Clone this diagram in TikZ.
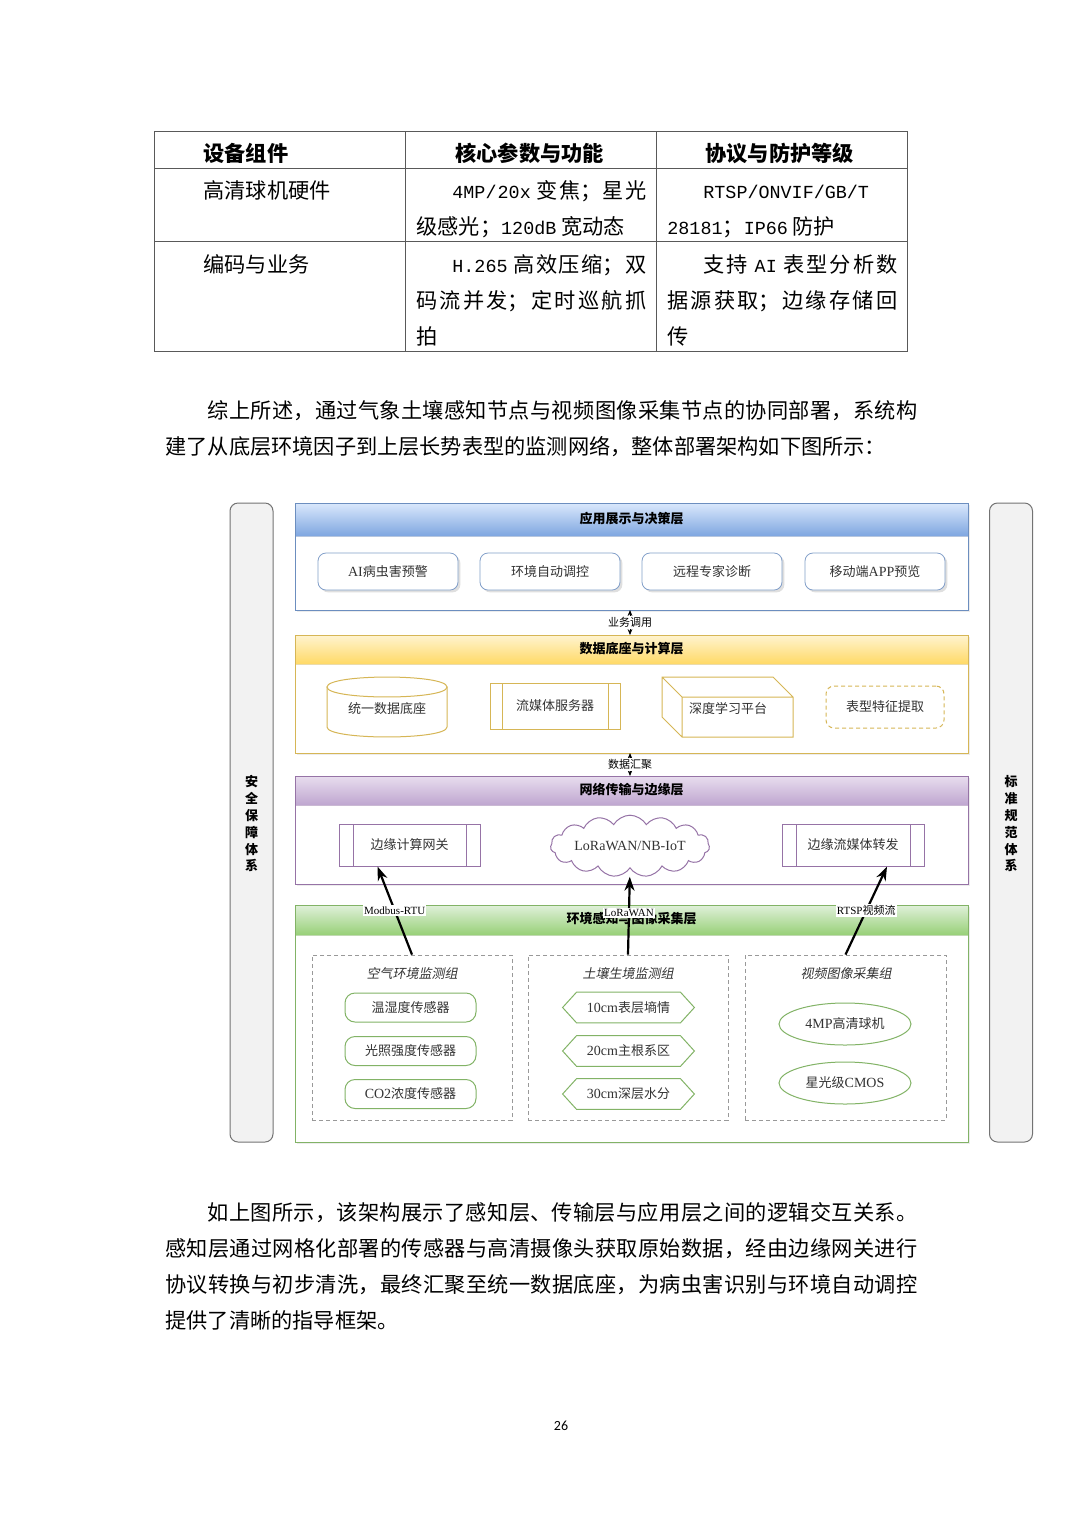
\documentclass[tikz,border=0pt]{standalone}
\usepackage{fontspec}
\setmainfont{Noto Sans CJK SC}
\newfontfamily\cjkit[FakeSlant=0.2]{Noto Sans CJK SC}
\newfontfamily\latf{Liberation Serif}
\newfontfamily\monof{Liberation Mono}
\newfontfamily\numf{Carlito}
\usetikzlibrary{shapes.geometric,shapes.symbols,shadows,arrows.meta}
\XeTeXlinebreaklocale "zh"
\XeTeXlinebreakskip=0pt plus 1pt
\newcommand\mn[1]{{\monof\fontsize{9.2pt}{18pt}\selectfont #1}}
\newcommand\latn[1]{{\latf\fontsize{7pt}{8pt}\selectfont #1}}
\newcommand\dfont{\fontsize{6.5pt}{8pt}\selectfont}
\definecolor{blueD}{HTML}{7EA6E0}\definecolor{blueL}{HTML}{DAE8FC}\definecolor{blueB}{HTML}{6C8EBF}
\definecolor{yelD}{HTML}{FFD966}\definecolor{yelL}{HTML}{FFF4D0}\definecolor{yelB}{HTML}{D6B656}
\definecolor{purD}{HTML}{BFA6D0}\definecolor{purL}{HTML}{E8DDEE}\definecolor{purB}{HTML}{9673A6}
\definecolor{grnD}{HTML}{97D077}\definecolor{grnL}{HTML}{E0F0DA}\definecolor{grnB}{HTML}{82B366}
\definecolor{txt}{HTML}{333333}
\definecolor{barfill}{HTML}{F2F2F2}
\begin{document}
\begin{tikzpicture}[x=0.5pt,y=-0.5pt,
  bodytext/.style={anchor=base west, inner sep=0pt, text width=376pt, align=justify, font=\fontsize{10.6pt}{18pt}\selectfont},
  celltext/.style={anchor=base west, inner sep=0pt, text width=115pt, align=justify, font=\fontsize{10.6pt}{18pt}\selectfont},
  cellone/.style={anchor=base west, inner sep=0pt, font=\fontsize{10.6pt}{18pt}\selectfont},
  tline/.style={draw=black!65, line width=0.45pt},
  dtext/.style={font=\dfont, text=txt, inner sep=1pt},
  ltitle/.style={font=\bfseries\dfont, text=black, inner sep=1pt},
  apbox/.style={draw=blueB!85, fill=white, rounded corners=4pt, minimum width=70pt, minimum height=18.5pt,
     drop shadow={opacity=0.25, shadow xshift=1.2pt, shadow yshift=-1.2pt}, font=\dfont, text=txt},
  procn/.style={draw, minimum height=23pt, font=\dfont, text=txt, line width=0.5pt},
  sbox/.style={draw=grnB, rounded corners=5pt, minimum width=65.5pt, minimum height=14.5pt, font=\dfont, text=txt, line width=0.5pt},
  hexn/.style={minimum width=65.5pt, minimum height=15pt, font=\dfont, text=txt},
  hexline/.style={draw=grnB, line width=0.5pt},
  elln/.style={ellipse, draw=grnB, minimum width=66pt, minimum height=21pt, font=\dfont, text=txt, line width=0.5pt},
  grpbox/.style={draw=black!40, dash pattern=on 2pt off 1.5pt, line width=0.4pt, minimum height=82.5pt},
  gtitle/.style={font=\cjkit\dfont, text=txt},
  flow/.style={-{Stealth[length=7pt,width=5pt]}, line width=1.1pt, black},
  linkarr/.style={{Stealth[length=3pt,width=2.4pt]}-{Stealth[length=3pt,width=2.4pt]}, line width=0.4pt, black},
  lbl/.style={fill=white, inner sep=0.6pt, font=\fontsize{5.5pt}{6pt}\selectfont, text=black},
  sidebar/.style={draw=black!55, fill=barfill, rounded corners=4pt, line width=0.5pt, minimum width=21.5pt, minimum height=319.5pt},
  sidetext/.style={font=\bfseries\fontsize{6.5pt}{8.4pt}\selectfont, align=center, text=black}
]
\useasboundingbox (0,0) rectangle (1080,1528);
\fill[white] (0,0) rectangle (1080,1528);

% ---------------- table ----------------
\draw[tline] (154,131) rectangle (907,351);
\draw[tline] (405,131) -- (405,351) (656,131) -- (656,351)
             (154,168) -- (907,168) (154,241) -- (907,241);
\node[cellone, font=\bfseries\fontsize{10.6pt}{18pt}\selectfont] (h1) at (203,161) {设备组件};
\node[cellone, font=\bfseries\fontsize{10.6pt}{18pt}\selectfont] (h2) at (455,161) {核心参数与功能};
\node[cellone, font=\bfseries\fontsize{10.6pt}{18pt}\selectfont] (h3) at (705,161) {协议与防护等级};
\node[cellone] (r1c1) at (203,198) {高清球机硬件};
\node[cellone] (r2c1) at (203,272) {编码与业务};
\node[celltext] (r1c2) at (416,198) {\hspace*{18pt}\mn{4MP/20x} 变焦；星光\linebreak 级感光；\mn{120dB} 宽动态};
\node[celltext] (r2c2) at (416,272) {\hspace*{18pt}\mn{H.265} 高效压缩；双\linebreak 码流并发；定时巡航抓\linebreak 拍};
\node[celltext] (r1c3) at (667,198) {\hspace*{18pt}\mn{RTSP/ONVIF/GB/T}\\\mn{28181}；\mn{IP66} 防护};
\node[celltext] (r2c3) at (667,272) {\hspace*{18pt}支持 \mn{AI} 表型分析数\linebreak 据源获取；边缘存储回\linebreak 传};

% ---------------- paragraph 1 ----------------
\node[bodytext] (p1) at (165,418) {\hspace*{2em}综上所述，通过气象土壤感知节点与视频图像采集节点的协同部署，系统构\linebreak 建了从底层环境因子到上层长势表型的监测网络，整体部署架构如下图所示：};

% ---------------- side bars ----------------
\node[sidebar] (sbl) at (251.5,822.5) {};
\node[sidetext] (sec) at (251.5,824) {安\\全\\保\\障\\体\\系};
\node[sidebar] (sbr) at (1011,822.5) {};
\node[sidetext] (std) at (1011,824) {标\\准\\规\\范\\体\\系};

% ---------------- layer 1 ----------------
\fill[white, drop shadow={opacity=0.15,shadow xshift=1pt,shadow yshift=-1pt}] (295,503) rectangle (968,610);
\shade[top color=blueL, bottom color=blueD] (295,503) rectangle (968,536);
\draw[blueB!50, line width=0.4pt] (295,536) -- (968,536);
\draw[blueB, line width=0.5pt] (295,503) rectangle (968,610);
\node[ltitle] (t1) at (631.5,519) {应用展示与决策层};
\node[apbox] (ai) at (388,571.5) {\latn{AI}病虫害预警};
\node[apbox] (env) at (550,571.5) {环境自动调控};
\node[apbox] (rem) at (712,571.5) {远程专家诊断};
\node[apbox] (app) at (875,571.5) {移动端\latn{APP}预览};
\coordinate (L1b) at (630,610);

% ---------------- layer 2 ----------------
\fill[white, drop shadow={opacity=0.15,shadow xshift=1pt,shadow yshift=-1pt}] (295,635) rectangle (968,753);
\shade[top color=yelL, bottom color=yelD] (295,635) rectangle (968,664);
\draw[yelB!50, line width=0.4pt] (295,664) -- (968,664);
\draw[yelB, line width=0.5pt] (295,635) rectangle (968,753);
\node[ltitle] (t2) at (631.5,649) {数据底座与计算层};
\coordinate (L2t) at (630,635);
\coordinate (L2b) at (630,753);
% cylinder
\draw[yelB, line width=0.5pt, fill=white] (327,687) -- (327,727) .. controls (327,740.3) and (447,740.3) .. (447,727) -- (447,687) -- cycle;
\draw[yelB, line width=0.5pt, fill=white] (327,687) .. controls (327,673.7) and (447,673.7) .. (447,687)
   .. controls (447,700.3) and (327,700.3) .. (327,687) -- cycle;
\node[dtext] (db) at (387,709) {统一数据底座};
% process
\node[procn, draw=yelB, minimum width=65pt] (sm) at (555,706) {流媒体服务器};
\draw[yelB, line width=0.5pt] (502,683) -- (502,729) (608,683) -- (608,729);
% cube
\draw[yelB, line width=0.5pt] (662,677) -- (773,677) -- (793,697) -- (793,737) -- (682,737) -- (662,717) -- cycle
   (662,677) -- (682,697) -- (793,697) (682,697) -- (682,737);
\node[dtext] (dl) at (728,708) {深度学习平台};
% dashed
\node[draw=yelB, dash pattern=on 2pt off 1.5pt, rounded corners=4pt, minimum width=59pt, minimum height=21pt, font=\dfont, text=txt, line width=0.5pt] (fe) at (885,707) {表型特征提取};

% ---------------- layer 3 ----------------
\fill[white, drop shadow={opacity=0.15,shadow xshift=1pt,shadow yshift=-1pt}] (295,776) rectangle (968,884);
\shade[top color=purL, bottom color=purD] (295,776) rectangle (968,805);
\draw[purB!50, line width=0.4pt] (295,805) -- (968,805);
\draw[purB, line width=0.5pt] (295,776) rectangle (968,884);
\node[ltitle] (t3) at (631.5,790) {网络传输与边缘层};
\coordinate (L3t) at (630,776);
\node[procn, draw=purB, minimum width=70.5pt, minimum height=21pt] (gw) at (409.5,845) {边缘计算网关};
\draw[purB, line width=0.5pt] (353,824) -- (353,866) (466,824) -- (466,866);
\node[cloud, cloud puffs=15, cloud puff arc=120, aspect=3.6, draw=purB, line width=0.5pt, minimum width=62pt, minimum height=16pt, inner sep=0pt, text=txt, font=\latf\fontsize{7pt}{8pt}\selectfont] (lora) at (630,846) {LoRaWAN/NB-IoT};
\node[procn, draw=purB, minimum width=71pt, minimum height=21pt] (es) at (853,845) {边缘流媒体转发};
\draw[purB, line width=0.5pt] (796,824) -- (796,866) (910,824) -- (910,866);

% ---------------- layer 4 ----------------
\fill[white, drop shadow={opacity=0.15,shadow xshift=1pt,shadow yshift=-1pt}] (295,905) rectangle (968,1142);
\shade[top color=grnL, bottom color=grnD] (295,905) rectangle (968,935);
\draw[grnB!50, line width=0.4pt] (295,935) -- (968,935);
\draw[grnB, line width=0.5pt] (295,905) rectangle (968,1142);
\node[ltitle] (t4) at (631.5,919) {环境感知与图像采集层};

\node[grpbox, minimum width=100pt] (g1) at (412,1037.5) {};
\node[grpbox, minimum width=100pt] (g2) at (628,1037.5) {};
\node[grpbox, minimum width=100.5pt] (g3) at (845.5,1037.5) {};
\node[gtitle] (gt1) at (412,974) {空气环境监测组};
\node[gtitle] (gt2) at (628,974) {土壤生境监测组};
\node[gtitle] (gt3) at (846,974) {视频图像采集组};

\node[sbox] (s1) at (410.5,1007.5) {温湿度传感器};
\node[sbox] (s2) at (410.5,1051) {光照强度传感器};
\node[sbox] (s3) at (410.5,1094) {\latn{CO2}浓度传感器};

\node[hexn] (x1) at (628.5,1007.5) {\latn{10cm}表层墒情};
\node[hexn] (x2) at (628.5,1051) {\latn{20cm}主根系区};
\node[hexn] (x3) at (628.5,1094) {\latn{30cm}深层水分};
\foreach \h in {x1,x2,x3}{
  \draw[hexline] (\h.west) -- ([xshift=7pt]\h.north west) -- ([xshift=-7pt]\h.north east) -- (\h.east)
     -- ([xshift=-7pt]\h.south east) -- ([xshift=7pt]\h.south west) -- cycle;
}
\node[elln] (e1) at (845,1024) {\latn{4MP}高清球机};
\node[elln] (e2) at (845,1083) {星光级\latn{CMOS}};

% ---------------- connectors ----------------
\draw[linkarr] (L1b) -- node[lbl] (lk1) {业务调用} (L2t);
\draw[linkarr] (L2b) -- node[lbl] (lk2) {数据汇聚} (L3t);
\draw[flow] (g1.north) -- node[lbl, font=\latf\fontsize{5.5pt}{6pt}\selectfont] (m1) {Modbus-RTU} ([xshift=-16pt]gw.south);
\draw[flow, shorten >=4pt] (g2.north) -- node[lbl, pos=0.48, font=\latf\fontsize{5.5pt}{6pt}\selectfont] (m2) {LoRaWAN} (lora.south);
\draw[flow] (g3.north) -- node[lbl] (m3) {{\latf RTSP}视频流} ([xshift=17pt]es.south);

% ---------------- paragraph 2 ----------------
\node[bodytext] (p2) at (165,1220) {\hspace*{2em}如上图所示，该架构展示了感知层、传输层与应用层之间的逻辑交互关系。\linebreak 感知层通过网格化部署的传感器与高清摄像头获取原始数据，经由边缘网关进行\linebreak 协议转换与初步清洗，最终汇聚至统一数据底座，为病虫害识别与环境自动调控\linebreak 提供了清晰的指导框架。};

\node[font=\numf\fontsize{7pt}{8pt}\selectfont] (pg) at (561,1426) {26};
\end{tikzpicture}
\end{document}
